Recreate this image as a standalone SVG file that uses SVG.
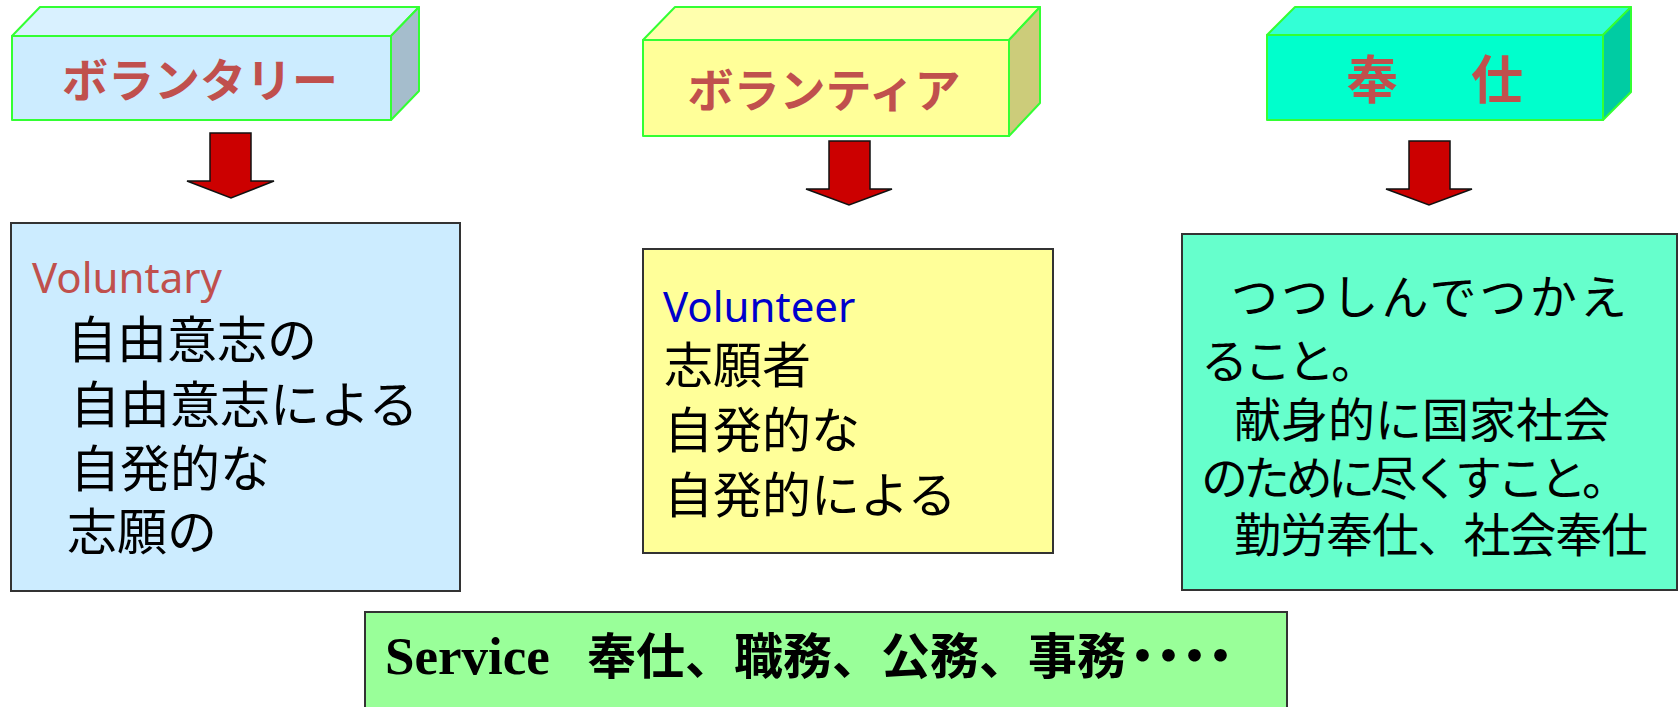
<svg xmlns="http://www.w3.org/2000/svg" width="1679" height="707" viewBox="0 0 1679 707">
<defs>
<style>
.edge{stroke:#33FF33;stroke-width:2;stroke-linejoin:round}
.ttl{font-family:"Noto Sans CJK JP","Noto Sans",sans-serif;font-weight:bold;fill:#C0504D;text-anchor:middle}
.box{stroke:#333333;stroke-width:2}
.jp{font-family:"Noto Sans CJK JP",sans-serif;fill:#000000}
.en{font-family:"Noto Sans","Open Sans",sans-serif}
.arrow{fill:#CC0000;stroke:#111111;stroke-width:1.5;stroke-linejoin:miter}
</style>
</defs>
<rect width="1679" height="707" fill="#FFFFFF"/>
<g id="connectors">
<polygon class="arrow" points="210,133 251,133 251,181 274,181 231,198 187,181 210,181"/>
<polygon class="arrow" points="829,141 870,141 870,189 892,189 849,205 806,189 829,189"/>
<polygon class="arrow" points="1409,141 1450,141 1450,189 1472,189 1429,205 1386,189 1409,189"/>
</g>
<g id="title-voluntary">
<polygon class="edge" fill="#D9F1FF" points="12,36 40,7 419,7 391,36"/>
<polygon class="edge" fill="#A5BDCC" points="391,36 419,7 419,91 391,120"/>
<rect class="edge" x="12" y="36" width="379" height="84" fill="#CCECFF"/>
<text class="ttl" x="200" y="97" font-size="46">ボランタリー</text>
</g>
<g id="title-volunteer">
<polygon class="edge" fill="#FFFFAD" points="643,40 675,7 1040,7 1009,40"/>
<polygon class="edge" fill="#CCCC7A" points="1009,40 1040,7 1040,103 1009,136"/>
<rect class="edge" x="643" y="40" width="366" height="96" fill="#FFFF99"/>
<text class="ttl" x="824" y="107" font-size="46">ボランティア</text>
</g>
<g id="title-hoshi">
<polygon class="edge" fill="#33FFD6" points="1267,35 1295,7 1631,7 1603,35"/>
<polygon class="edge" fill="#00CCA3" points="1603,35 1631,7 1631,92 1603,120"/>
<rect class="edge" x="1267" y="35" width="336" height="85" fill="#00FFCC"/>
<text class="ttl" font-size="52" y="99"><tspan x="1372">奉</tspan><tspan x="1497">仕</tspan></text>
</g>
<g id="def-voluntary">
<rect class="box" x="11" y="223" width="449" height="368" fill="#CCECFF"/>
<text class="en" x="32" y="293" font-size="42" fill="#C0504D">Voluntary</text>
<text class="jp" font-size="50"><tspan x="67" y="358">自由意志の</tspan><tspan x="70" y="423">自由意志による</tspan><tspan x="70" y="487">自発的な</tspan><tspan x="67" y="550">志願の</tspan></text>
</g>
<g id="def-volunteer">
<rect class="box" x="643" y="249" width="410" height="304" fill="#FFFF99"/>
<text class="en" x="663" y="322" font-size="42" fill="#0000CC">Volunteer</text>
<text class="jp" font-size="49"><tspan x="664" y="383">志願者</tspan><tspan x="664" y="448">自発的な</tspan><tspan x="664" y="513">自発的による</tspan></text>
</g>
<g id="def-hoshi">
<rect class="box" x="1182" y="234" width="495" height="356" fill="#66FFCC"/>
<g class="jp" font-size="47">
<text x="1231" y="314" textLength="396" lengthAdjust="spacing">つつしんでつかえ</text>
<text x="1201" y="378" textLength="177" lengthAdjust="spacing">ること。</text>
<text x="1234" y="437">献身的に国家社会</text>
<text x="1201" y="495" textLength="428" lengthAdjust="spacing">のために尽くすこと。</text>
<text x="1234" y="552" textLength="414" lengthAdjust="spacing">勤労奉仕、社会奉仕</text>
</g>
</g>
<g id="service">
<rect class="box" x="365" y="612" width="922" height="100" fill="#99FF99"/>
<text y="674" fill="#000000" font-weight="bold"><tspan x="385" font-family="Liberation Serif,serif" font-size="53">Service</tspan><tspan x="587" font-family="Noto Sans CJK JP,sans-serif" font-size="49">奉仕、職務、公務、事務</tspan><tspan dx="-8" font-family="Noto Sans CJK JP,sans-serif" font-size="49" letter-spacing="-23">・・・・</tspan></text>
</g>
</svg>
